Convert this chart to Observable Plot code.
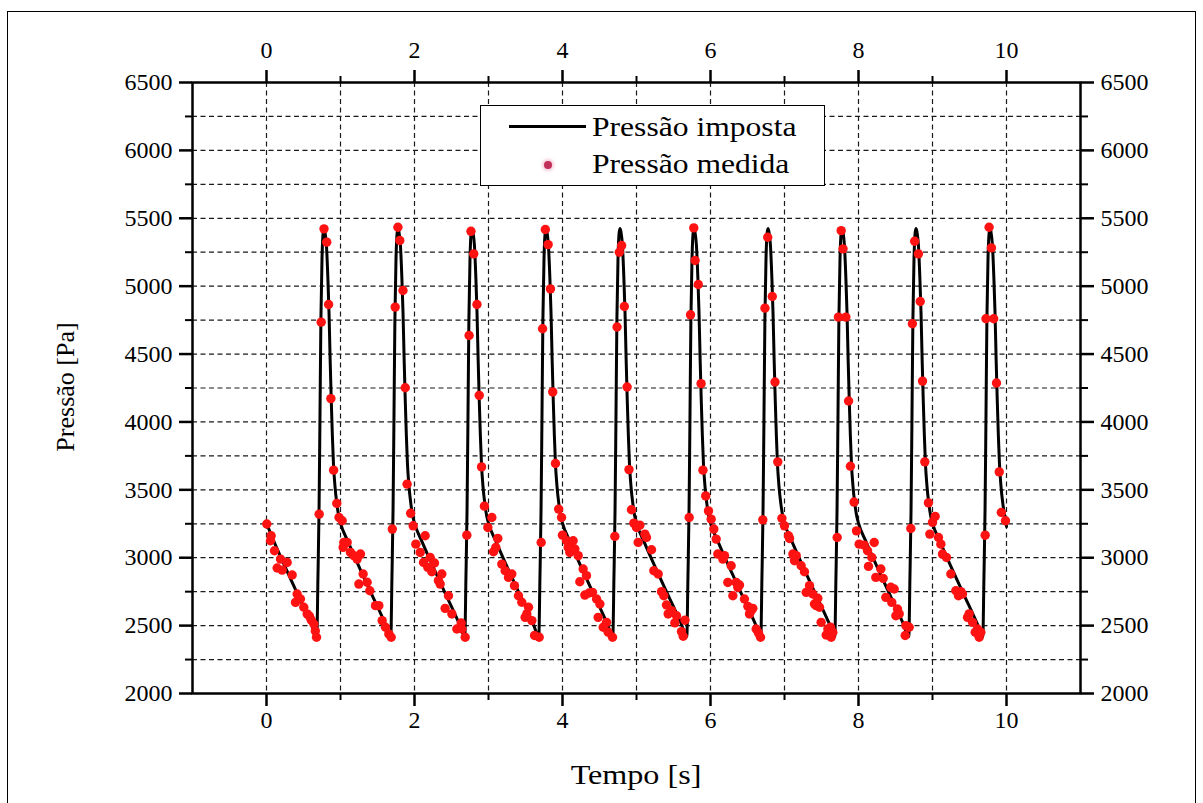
<!DOCTYPE html>
<html><head><meta charset="utf-8">
<script src="https://cdn.jsdelivr.net/npm/d3@7"></script>
<script src="https://cdn.jsdelivr.net/npm/@observablehq/plot@0.6"></script>
<style>
html,body{margin:0;padding:0;background:#fff;}
#wrap{position:relative;width:1203px;height:803px;overflow:hidden;font-family:"Liberation Serif","Times New Roman",serif;color:#000;}
#border{position:absolute;left:7px;top:11px;width:1189px;height:830px;border:1.5px solid #000;box-sizing:border-box;}
#chart{position:absolute;left:0;top:0;}
#chart svg text{font-family:"Liberation Serif","Times New Roman",serif !important;}
#legend{position:absolute;left:480px;top:105px;width:345px;height:81px;border:1.5px solid #000;background:#fff;box-sizing:border-box;}
.lg{position:absolute;font-size:27px;line-height:34px;white-space:nowrap;transform:scaleX(1.17);transform-origin:0 50%;}
#xtitle{position:absolute;left:636px;top:775px;font-size:27px;line-height:34px;white-space:nowrap;transform:translate(-50%,-50%) scaleX(1.19);}
#ytitle{position:absolute;left:66px;top:387px;font-size:26px;line-height:32px;white-space:nowrap;transform:translate(-50%,-50%) rotate(-90deg);}
</style></head>
<body>
<div id="wrap">
  <div id="border"></div>
  <div id="chart"></div>
  <div id="legend">
    <div style="position:absolute;left:28px;top:19px;width:77px;height:3px;background:#000;"></div>
    <div class="lg" style="left:111px;top:4px;">Pressão imposta</div>
    <div style="position:absolute;left:63px;top:55px;width:8px;height:8px;border-radius:50%;background:#c0305a;box-shadow:0 0 3px 2px rgba(240,150,180,0.5);"></div>
    <div class="lg" style="left:111px;top:41px;">Pressão medida</div>
  </div>
  <div id="xtitle">Tempo [s]</div>
  <div id="ytitle">Pressão [Pa]</div>
</div>
<script>
// Tick values
const xMajor = [0, 2, 4, 6, 8, 10];
const xMinor = [1, 3, 5, 7, 9];
const xGrid = [0, 1, 2, 3, 4, 5, 6, 7, 8, 9, 10];
const yMajor = [2000, 2500, 3000, 3500, 4000, 4500, 5000, 5500, 6000, 6500];
const yMinor = [2250, 2750, 3250, 3750, 4250, 4750, 5250, 5750, 6250];
const yGrid = [2250, 2500, 2750, 3000, 3250, 3500, 3750, 4000, 4250, 4500, 4750, 5000, 5250, 5500, 5750, 6000, 6250];

// Imposed pressure (line): time [s]
const lineT = [
  0,0.1,0.2,0.3,0.4,0.5,0.6,0.68,0.695,0.71,0.722,0.735,0.75,0.765,0.777,0.79,0.81,0.83,0.845,0.86,0.875,0.89,0.905,0.925,0.95,0.975,
  1,1.1,1.2,1.3,1.4,1.5,1.6,1.68,1.695,1.71,1.722,1.735,1.75,1.765,1.777,1.79,1.81,1.83,1.845,1.86,1.875,1.89,1.905,1.925,1.95,1.975,
  2,2.1,2.2,2.3,2.4,2.5,2.6,2.68,2.695,2.71,2.722,2.735,2.75,2.765,2.777,2.79,2.81,2.83,2.845,2.86,2.875,2.89,2.905,2.925,2.95,2.975,
  3,3.1,3.2,3.3,3.4,3.5,3.6,3.68,3.695,3.71,3.722,3.735,3.75,3.765,3.777,3.79,3.81,3.83,3.845,3.86,3.875,3.89,3.905,3.925,3.95,3.975,
  4,4.1,4.2,4.3,4.4,4.5,4.6,4.68,4.695,4.71,4.722,4.735,4.75,4.765,4.777,4.79,4.81,4.83,4.845,4.86,4.875,4.89,4.905,4.925,4.95,4.975,
  5,5.1,5.2,5.3,5.4,5.5,5.6,5.68,5.695,5.71,5.722,5.735,5.75,5.765,5.777,5.79,5.81,5.83,5.845,5.86,5.875,5.89,5.905,5.925,5.95,5.975,
  6,6.1,6.2,6.3,6.4,6.5,6.6,6.68,6.695,6.71,6.722,6.735,6.75,6.765,6.777,6.79,6.81,6.83,6.845,6.86,6.875,6.89,6.905,6.925,6.95,6.975,
  7,7.1,7.2,7.3,7.4,7.5,7.6,7.68,7.695,7.71,7.722,7.735,7.75,7.765,7.777,7.79,7.81,7.83,7.845,7.86,7.875,7.89,7.905,7.925,7.95,7.975,
  8,8.1,8.2,8.3,8.4,8.5,8.6,8.68,8.695,8.71,8.722,8.735,8.75,8.765,8.777,8.79,8.81,8.83,8.845,8.86,8.875,8.89,8.905,8.925,8.95,8.975,
  9,9.1,9.2,9.3,9.4,9.5,9.6,9.68,9.695,9.71,9.722,9.735,9.75,9.765,9.777,9.79,9.81,9.83,9.845,9.86,9.875,9.89,9.905,9.925,9.95,9.975,
  10
];
// Imposed pressure (line): pressure [Pa]
const lineP = [
  3255,3120,2995,2875,2755,2640,2520,2420,2850,3350,4000,4750,5200,5390,5425,5400,5300,5050,4800,4460,4160,3900,3690,3530,3400,3310,
  3255,3120,2995,2875,2755,2640,2520,2420,2850,3350,4000,4750,5200,5390,5425,5400,5300,5050,4800,4460,4160,3900,3690,3530,3400,3310,
  3255,3120,2995,2875,2755,2640,2520,2420,2850,3350,4000,4750,5200,5390,5420,5395,5300,5050,4800,4460,4160,3900,3690,3530,3400,3310,
  3255,3120,2995,2875,2755,2640,2520,2420,2850,3350,4000,4750,5200,5390,5425,5400,5300,5050,4800,4460,4160,3900,3690,3530,3400,3310,
  3255,3120,2995,2875,2755,2640,2520,2420,2850,3350,4000,4750,5200,5390,5425,5400,5300,5050,4800,4460,4160,3900,3690,3530,3400,3310,
  3255,3120,2995,2875,2755,2640,2520,2420,2850,3350,4000,4750,5200,5390,5425,5400,5300,5050,4800,4460,4160,3900,3690,3530,3400,3310,
  3255,3120,2995,2875,2755,2640,2520,2420,2850,3350,4000,4750,5200,5390,5425,5400,5300,5050,4800,4460,4160,3900,3690,3530,3400,3310,
  3255,3120,2995,2875,2755,2640,2520,2420,2850,3350,4000,4750,5200,5390,5425,5400,5300,5050,4800,4460,4160,3900,3690,3530,3400,3310,
  3255,3120,2995,2875,2755,2640,2520,2420,2850,3350,4000,4750,5200,5390,5425,5400,5300,5050,4800,4460,4160,3900,3690,3530,3400,3310,
  3255,3120,2995,2875,2755,2640,2520,2420,2850,3350,4000,4750,5200,5390,5425,5400,5300,5050,4800,4460,4160,3900,3690,3530,3400,3310,
  3230
];

// Measured pressure (dots): time [s]
const measT = [
  0.004,0.054,0.063,0.108,0.144,0.189,0.212,0.279,0.347,0.392,0.414,0.459,0.504,0.55,0.58,0.604,0.64,0.66,0.676,0.712,0.739,0.777,0.814,0.839,0.87,0.907,0.95,0.98,
  1.023,1.036,1.045,1.09,1.135,1.18,1.225,1.27,1.248,1.306,1.36,1.396,1.473,1.518,1.563,1.608,1.653,1.685,1.70,1.739,1.776,1.801,1.844,1.875,1.900,1.948,
  1.982,2.018,2.077,2.122,2.144,2.180,2.212,2.234,2.270,2.324,2.347,2.369,2.414,2.459,2.505,2.572,2.631,2.640,2.685,2.707,2.738,2.763,2.800,2.844,2.875,2.906,2.945,
  2.991,3.045,3.068,3.099,3.126,3.180,3.225,3.270,3.315,3.351,3.405,3.450,3.495,3.518,3.541,3.586,3.622,3.685,3.712,3.731,3.768,3.806,3.837,3.868,3.905,3.948,
  3.987,4.0,4.054,4.077,4.099,4.144,4.167,4.212,4.234,4.279,4.302,4.324,4.360,4.405,4.460,4.482,4.505,4.550,4.595,4.617,4.676,4.707,4.737,4.768,4.799,4.836,4.873,4.898,4.932,
  4.964,5.0,5.023,5.045,5.113,5.135,5.203,5.234,5.293,5.338,5.369,5.405,5.428,5.473,5.518,5.541,5.608,5.631,5.655,5.712,5.730,5.774,5.792,5.835,5.873,5.898,5.935,
  5.973,6.009,6.045,6.077,6.099,6.167,6.189,6.234,6.279,6.302,6.347,6.369,6.392,6.459,6.505,6.527,6.550,6.572,6.617,6.649,6.676,6.707,6.736,6.773,6.835,6.872,6.909,6.965,
  7.0,7.054,7.068,7.113,7.135,7.158,7.225,7.270,7.293,7.338,7.383,7.405,7.428,7.450,7.473,7.495,7.563,7.586,7.622,7.631,7.653,7.712,7.729,7.766,7.791,7.829,7.866,7.891,7.94,
  7.973,8.009,8.077,8.122,8.135,8.180,8.212,8.234,8.302,8.333,8.369,8.437,8.450,8.482,8.505,8.527,8.550,8.631,8.640,8.685,8.707,8.728,8.759,8.809,8.834,8.865,8.896,8.945,
  8.964,9.0,9.036,9.081,9.113,9.135,9.189,9.248,9.315,9.351,9.383,9.405,9.473,9.495,9.541,9.577,9.608,9.631,9.653,9.712,9.722,9.765,9.796,9.827,9.865,9.902,9.93,9.986
];
// Measured pressure (dots): pressure [Pa]
const measP = [
  3248,3125,3162,3051,2924,2990,2909,2965,2873,2671,2733,2696,2635,2586,2570,2542,2512,2460,2414,3321,4735,5422,5324,4865,4172,3645,3400,3296,
  3272,3076,3113,3113,3039,3015,2990,3027,2806,2880,2819,2757,2647,2647,2537,2488,2439,2414,3211,4846,5434,5336,4968,4252,3542,3327,
  3235,3100,3039,2965,3162,2929,3002,2897,2961,2831,2806,2880,2627,2720,2586,2475,2519,2475,2414,3166,4637,5404,5238,4865,4196,3669,3380,
  3223,3296,3044,3076,3142,2953,2904,2855,2880,2794,2720,2672,2561,2586,2635,2537,2427,2414,3112,4686,5417,5306,4980,4221,3694,3358,
  3296,3166,3125,3076,3039,3125,3064,3015,2823,2917,2725,2868,2740,2745,2696,2561,2659,2488,2524,2451,2414,3157,4699,5250,5299,4850,4257,3649,3353,
  3255,3223,3113,3240,3174,3149,3059,2904,2880,2750,2720,2652,2586,2610,2520,2573,2456,2422,2540,3296,4789,5429,5189,5012,4282,3645,3455,
  3345,3284,3211,3137,3027,2990,3015,2818,2941,2720,2818,2782,2799,2696,2642,2586,2610,2627,2475,2446,2414,3279,4838,5360,4924,4294,3706,3290,
  3235,3162,3142,3027,2978,3015,2941,2897,2745,2794,2733,2659,2647,2701,2635,2524,2431,2475,2488,2414,2451,3149,4772,5409,5275,4772,4154,3674,3410,
  3198,3100,3093,3051,2936,3002,3112,2855,2917,2848,2708,2782,2671,2770,2573,2622,2586,2427,2500,2488,3215,4723,5331,5238,4887,4301,3706,3404,
  3174,3260,3304,3149,3100,3027,3002,2880,2757,2720,2750,2733,2561,2586,2524,2451,2475,2414,2451,3166,4760,5434,5282,4760,4287,3632,3333,3272
];

const lineData = lineT.map((t, i) => ({t, p: lineP[i]}));
const measData = measT.map((t, i) => ({t, p: measP[i]}));

const serif = '"Liberation Serif", "Times New Roman", serif';
const gridStyle = {stroke: "#1a1a1a", strokeOpacity: 1, strokeWidth: 1.2, strokeDasharray: "5,3.5"};
const font = 24;

const chart = Plot.plot({
  width: 1203,
  height: 803,
  marginLeft: 192,
  marginRight: 123,
  marginTop: 82,
  marginBottom: 110,
  style: {fontFamily: serif, fontSize: font + "px", color: "#000", background: "transparent", overflow: "visible"},
  x: {domain: [-1, 11]},
  y: {domain: [2000, 6500]},
  marks: [
    Plot.gridX(xGrid, gridStyle),
    Plot.gridY(yGrid, gridStyle),
    Plot.line(lineData, {x: "t", y: "p", stroke: "#000", strokeWidth: 3, curve: "monotone-x"}),
    Plot.dot(measData, {x: "t", y: "p", r: 4.7, fill: "#ff1212", stroke: "none"}),
    Plot.frame({stroke: "#000", strokeWidth: 2.5}),
    Plot.axisX(xMajor, {anchor: "bottom", tickSize: 13, tickPadding: 4, strokeWidth: 2.5, fontSize: font, fontFamily: serif, tickFormat: "d", label: null}),
    Plot.axisX(xMinor, {anchor: "bottom", tickSize: 7, strokeWidth: 2, tickFormat: () => "", label: null}),
    Plot.axisX(xMajor, {anchor: "top", tickSize: 13, tickPadding: 12, strokeWidth: 2.5, fontSize: font, fontFamily: serif, tickFormat: "d", label: null}),
    Plot.axisX(xMinor, {anchor: "top", tickSize: 7, strokeWidth: 2, tickFormat: () => "", label: null}),
    Plot.axisY(yMajor, {anchor: "left", tickSize: 13, tickPadding: 7, strokeWidth: 2.5, fontSize: font, fontFamily: serif, tickFormat: "d", label: null}),
    Plot.axisY(yMinor, {anchor: "left", tickSize: 7, strokeWidth: 2, tickFormat: () => "", label: null}),
    Plot.axisY(yMajor, {anchor: "right", tickSize: 13, tickPadding: 7, strokeWidth: 2.5, fontSize: font, fontFamily: serif, tickFormat: "d", label: null}),
    Plot.axisY(yMinor, {anchor: "right", tickSize: 7, strokeWidth: 2, tickFormat: () => "", label: null})
  ]
});
document.getElementById("chart").appendChild(chart);
</script>
</body></html>
